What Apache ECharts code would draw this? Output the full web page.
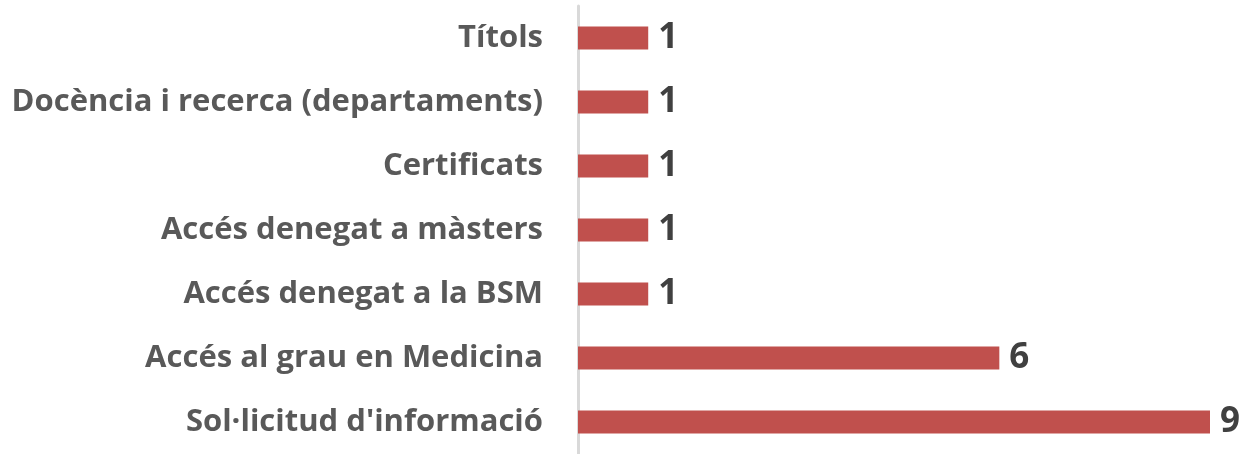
<!DOCTYPE html>
<html>
<head>
<meta charset="utf-8">
<script src="https://cdn.jsdelivr.net/npm/echarts@6/dist/echarts.min.js"></script>
<style>
  html, body { margin: 0; padding: 0; background: #fff; }
  #chart { width: 1252px; height: 454px; }
</style>
</head>
<body>
<div id="chart"></div>
<script>
// categories, bottom to top
var categories = [
  "Sol·licitud d'informació",
  "Accés al grau en Medicina",
  "Accés denegat a la BSM",
  "Accés denegat a màsters",
  "Certificats",
  "Docència i recerca (departaments)",
  "Títols"
];
var values = [9, 6, 1, 1, 1, 1, 1];

var chart = echarts.init(document.getElementById("chart"));
chart.setOption({
  animation: false,
  grid: {
    left: 578,
    top: 6,
    width: 632,
    height: 452
  },
  xAxis: {
    type: "value",
    min: 0,
    max: 9,
    show: false
  },
  yAxis: {
    type: "category",
    data: categories,
    axisTick: { show: false },
    axisLine: {
      show: true,
      lineStyle: { color: "#d9d9d9", width: 3 }
    },
    axisLabel: {
      margin: 35,
      fontFamily: "Open Sans",
      fontWeight: "bold",
      fontSize: 31,
      color: "#595959"
    }
  },
  series: [
    {
      type: "bar",
      data: values,
      barWidth: 23,
      itemStyle: { color: "#c0504d" },
      label: {
        show: true,
        position: "right",
        distance: 10,
        fontFamily: "Open Sans",
        fontWeight: "bold",
        fontSize: 35,
        color: "#404040"
      }
    }
  ]
});
</script>
</body>
</html>
